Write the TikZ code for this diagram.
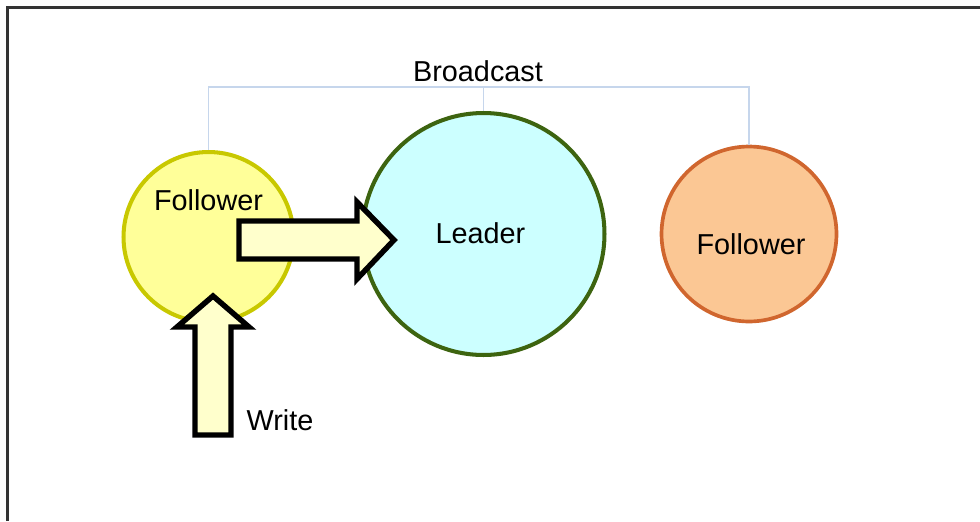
\documentclass[tikz,border=0pt]{standalone}
\usepackage{fontspec}
\setmainfont{Liberation Sans}
\usepackage{xcolor}
\usepackage{tikz}
\usetikzlibrary{calc}

\definecolor{folfill}{HTML}{FFFF99}
\definecolor{folline}{HTML}{C8C800}
\definecolor{leadfill}{HTML}{CCFFFF}
\definecolor{leadline}{HTML}{3D6410}
\definecolor{orfill}{HTML}{FBC794}
\definecolor{orline}{HTML}{D0662E}
\definecolor{arrfill}{HTML}{FFFFCC}
\definecolor{bcline}{HTML}{C6D6EC}

\begin{document}
\begin{tikzpicture}[x=0.02cm,y=-0.02cm,
  every node/.style={font=\fontsize{16.4}{20}\selectfont},
  folcirc/.style={circle,draw=folline,fill=folfill,line width=2.3pt},
  leadcirc/.style={circle,draw=leadline,fill=leadfill,line width=2.3pt},
  orcirc/.style={circle,draw=orline,fill=orfill,line width=2.1pt},
  blockarrow/.style={draw=black,fill=arrfill,line width=3.1pt},
  bline/.style={draw=bcline,line width=1pt}]
\useasboundingbox (0,0) rectangle (980,521);

% Frame
\draw[line width=1.2pt,black!80] (7.5,521) -- (7.5,7.5) -- (980,7.5);

% Nodes
\node[folcirc,minimum size=3.4cm] (fol1) at (208.5,237) {};
\node[leadcirc,minimum size=4.84cm] (leader) at (483.5,234) {};
\node[orcirc,minimum size=3.5cm] (fol2) at (749,234) {};

\node (fol1txt) at ($(fol1)+(0,-37)$) {Follower};
\node (leadtxt) at ($(leader)+(-3,-1)$) {Leader};
\node (fol2txt) at ($(fol2)+(2,10)$) {Follower};

% Broadcast
\coordinate (bc) at (483.5,87);
\draw[bline] (fol1.north) -- (fol1.north |- bc) -- (fol2.north |- bc) -- (fol2.north);
\draw[bline] (leader.north) -- (bc);
\node (bctxt) at (478,71) {Broadcast};

% Forward to leader
\draw[blockarrow] (239,221) -- (357,221) -- (357,202) -- (394,240)
  -- (357,279) -- (357,259) -- (239,259) -- cycle;

% Write request
\draw[blockarrow] (195,435) -- (195,327) -- (177,327) -- (213,296)
  -- (249,327) -- (231,327) -- (231,435) -- cycle;
\node (wrtxt) at (280,420) {Write};
\end{tikzpicture}
\end{document}
